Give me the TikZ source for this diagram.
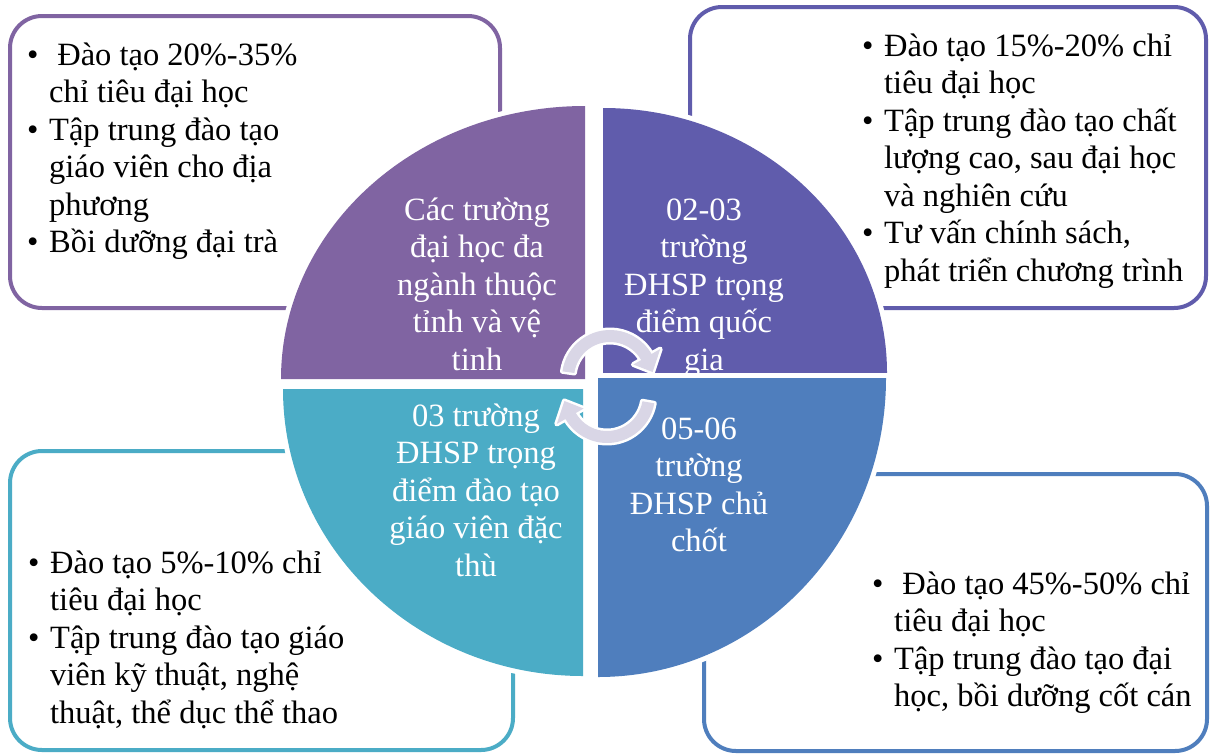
\documentclass[tikz,border=0pt]{standalone}
\usepackage{fontspec}
\setmainfont{Liberation Serif}
\usetikzlibrary{calc}
\definecolor{cTL}{HTML}{8064A2}
\definecolor{cTR}{HTML}{605CAC}
\definecolor{cBR}{HTML}{4F7EBD}
\definecolor{cBL}{HTML}{4BACC6}
\definecolor{cArr}{HTML}{D9D6E6}
\newcommand{\bul}{\makebox[22pt][l]{•}}
\newcommand{\ind}{\hspace*{22pt}}
\begin{document}
\begin{tikzpicture}[x=1pt,y=-1pt,
  box/.style={line width=4pt, rounded corners=32pt},
  quad/.style={preaction={draw=white, line width=10pt}},
  arrowband/.style={fill=cArr, preaction={draw=white, line width=5pt, line join=round}},
  txt/.style={font=\fontsize{32.5}{37.5}\selectfont, inner sep=0pt, align=left, anchor=north west},
  qtxt/.style={font=\fontsize{32.5}{37.5}\selectfont, text=white, inner sep=0pt, align=center, anchor=north}]
\useasboundingbox (0,0) rectangle (1214,755);
\fill[white] (0,0) rectangle (1214,755);
% boxes
\draw[box, draw=cTL] (10,16) rectangle (500,308);
\draw[box, draw=cTR] (690,7) rectangle (1206,308);
\draw[box, draw=cBL] (10,451) rectangle (513,750);
\draw[box, draw=cBR] (704,474) rectangle (1207,751);
% quadrants
\fill[cTL, quad] (585,379) -- (281,379) arc[start angle=180, end angle=270, x radius=304, y radius=273] -- cycle;
\fill[cTR, quad] (603,373) -- (603,108) arc[start angle=270, end angle=360, x radius=284, y radius=265] -- cycle;
\fill[cBR, quad] (598,378) -- (886,378) arc[start angle=0, end angle=90, x radius=288, y radius=299] -- cycle;
\fill[cBL, quad] (583,389) -- (583,676) arc[start angle=90, end angle=180, x radius=300, y radius=287] -- cycle;
% quadrant texts
\node[qtxt] (q1) at (477,194) {\strut Các trường\\đại học đa\\ngành thuộc\\tỉnh và vệ\\tinh};
\node[qtxt] (q2) at (704,194) {\strut 02-03\\trường\\ĐHSP trọng\\điểm quốc\\gia};
\node[qtxt] (q3) at (476,400) {\strut 03 trường\\ĐHSP trọng\\điểm đào tạo\\giáo viên đặc\\thù};
\node[qtxt] (q4) at (699,413) {\strut 05-06\\trường\\ĐHSP chủ\\chốt};
% circular arrows
\coordinate (c1) at (610,378);
\coordinate (c2) at (607,395);
\path[arrowband] ($(c1)+(188:48)$) arc[start angle=188, end angle=330, radius=48]
  -- ($(c1)+(330:58)$) -- ($(c1)+(352:43)$) -- ($(c1)+(330:27)$) -- ($(c1)+(330:36)$)
  arc[start angle=330, end angle=188, radius=36] -- cycle;
\path[arrowband] ($(c2)+(10:48)$) arc[start angle=10, end angle=150, radius=48]
  -- ($(c2)+(150:58)$) -- ($(c2)+(172:43)$) -- ($(c2)+(150:27)$) -- ($(c2)+(150:36)$)
  arc[start angle=150, end angle=10, radius=36] -- cycle;
% box texts
\node[txt] (t1) at (27,39) {\strut\bul\ Đào tạo 20\%-35\%\\\ind chỉ tiêu đại học\\\bul Tập trung đào tạo\\\ind giáo viên cho địa\\\ind phương\\\bul Bồi dưỡng đại trà};
\node[txt] (t2) at (862,30) {\strut\bul Đào tạo 15\%-20\% chỉ\\\ind tiêu đại học\\\bul Tập trung đào tạo chất\\\ind lượng cao, sau đại học\\\ind và nghiên cứu\\\bul Tư vấn chính sách,\\\ind phát triển chương trình};
\node[txt] (t3) at (28,547) {\strut\bul Đào tạo 5\%-10\% chỉ\\\ind tiêu đại học\\\bul Tập trung đào tạo giáo\\\ind viên kỹ thuật, nghệ\\\ind thuật, thể dục thể thao};
\node[txt] (t4) at (872,568) {\strut\bul\ Đào tạo 45\%-50\% chỉ\\\ind tiêu đại học\\\bul Tập trung đào tạo đại\\\ind học, bồi dưỡng cốt cán};
\end{tikzpicture}
\end{document}
